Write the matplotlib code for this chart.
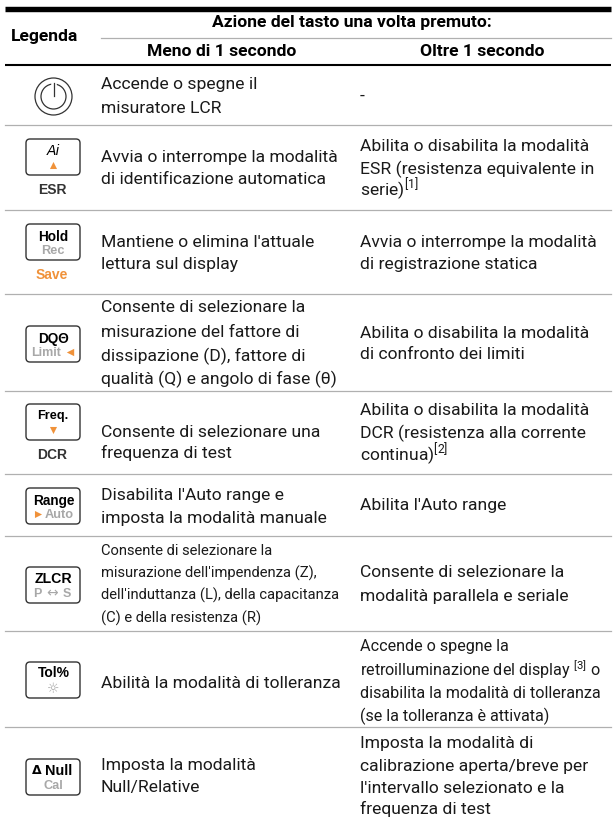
import matplotlib.pyplot as plt
from matplotlib.patches import FancyBboxPatch, Circle

plt.rcParams['mathtext.default'] = 'regular'

BODY = 'Roboto'
KEYFONT = 'Liberation Sans'
ORANGE = '#f0923a'
GREY = '#a8a8a8'
RULE = '#b0b0b0'
TEXT = '#1a1a1a'

title = 'Azione del tasto una volta premuto:'
col_heads = ['Legenda', 'Meno di 1 secondo', 'Oltre 1 secondo']

short_press = [
    ['Accende o spegne il', 'misuratore LCR'],
    ['Avvia o interrompe la modalità', 'di identificazione automatica'],
    ['Mantiene o elimina l\'attuale', 'lettura sul display'],
    ['Consente di selezionare la', 'misurazione del fattore di', 'dissipazione (D), fattore di', 'qualità (Q) e angolo di fase (θ)'],
    ['Consente di selezionare una', 'frequenza di test'],
    ['Disabilita l\'Auto range e', 'imposta la modalità manuale'],
    ['Consente di selezionare la', 'misurazione dell\'impendenza (Z),', 'dell\'induttanza (L), della capacitanza', '(C) e della resistenza (R)'],
    ['Abilità la modalità di tolleranza'],
    ['Imposta la modalità', 'Null/Relative'],
]
long_press = [
    ['-'],
    ['Abilita o disabilita la modalità', 'ESR (resistenza equivalente in', 'serie)$^{[1]}$'],
    ['Avvia o interrompe la modalità', 'di registrazione statica'],
    ['Abilita o disabilita la modalità', 'di confronto dei limiti'],
    ['Abilita o disabilita la modalità', 'DCR (resistenza alla corrente', 'continua)$^{[2]}$'],
    ['Abilita l\'Auto range'],
    ['Consente di selezionare la', 'modalità parallela e seriale'],
    ['Accende o spegne la', 'retroilluminazione del display $^{[3]}$ o', 'disabilita la modalità di tolleranza', '(se la tolleranza è attivata)'],
    ['Imposta la modalità di', 'calibrazione aperta/breve per', 'l\'intervallo selezionato e la', 'frequenza di test'],
]
key_top = [None, 'Ai', 'Hold', 'DQΘ', 'Freq.', 'Range', 'ZLCR', 'Tol%', 'Null']
key_low = [None, None, 'Rec', 'Limit', None, 'Auto', None, None, 'Cal']
key_under = [None, 'ESR', 'Save', None, 'DCR', None, None, None, None]

# pixel layout, y down
rules = [126, 211, 295, 392, 475, 537, 632, 728]
left_y = [[83, 107], [156, 178], [241, 263], [306, 331, 355, 378], [431, 452],
          [494, 517], [549, 572, 594, 617], [682], [764, 786]]
right_y = [[95], [145, 168, 190], [241, 263], [332, 353], [409, 432, 455],
           [504], [571, 595], [645, 670, 692, 715], [742, 765, 787, 808]]
key_y = [None, 140, 225, 327, 405, 489, 568, 663, 760]
left_x = 101
right_x = 360

fig = plt.figure(figsize=(6.16, 8.2), dpi=100)
ax = fig.add_axes([0, 0, 1, 1])
ax.set_xlim(0, 616)
ax.set_ylim(820, 0)
ax.axis('off')

ax.plot([5, 611], [10, 10], color='black', lw=3.9, solid_capstyle='butt')
ax.plot([5, 611], [65.7, 65.7], color='black', lw=1.5, solid_capstyle='butt')
ax.plot([101, 611], [38.5, 38.5], color=RULE, lw=0.9)
for y in rules:
    ax.plot([5, 611], [y, y], color=RULE, lw=0.9)

ax.text(352, 23, title, family=BODY, weight='bold', fontsize=12.6, ha='center', va='center', color='black')
ax.text(45, 37, col_heads[0], family=BODY, weight='bold', fontsize=12.6, ha='center', va='center', color='black')
ax.text(222, 51, col_heads[1], family=BODY, weight='bold', fontsize=12.6, ha='center', va='center', color='black')
ax.text(482, 51, col_heads[2], family=BODY, weight='bold', fontsize=12.6, ha='center', va='center', color='black')


def body(x, ys, lines, size=12.6):
    for y, line in zip(ys, lines):
        ax.text(x, y + 6, line, family=BODY, fontsize=size, va='baseline', color=TEXT)


for i in range(len(short_press)):
    body(left_x, left_y[i], short_press[i], size=10.6 if i == 6 else 12.6)
    body(right_x, right_y[i], long_press[i], size=11.6 if i == 7 else 12.6)

# power button
ax.add_patch(Circle((53.5, 97.5), 18.5, fill=False, ec='#333333', lw=0.9))
ax.add_patch(Circle((53.5, 97.5), 12.5, fill=False, ec='#333333', lw=0.9))
ax.plot([53.5, 53.5], [83, 90], color='white', lw=4)
ax.plot([53.5, 53.5], [84, 97], color='#333333', lw=0.9)


def keytext(x, y, s, size, color='black'):
    ax.text(x, y, s, family=KEYFONT, weight='bold', fontsize=size, ha='center', va='center', color=color)


# keys
for i in range(1, len(key_top)):
    top = key_y[i]
    ax.add_patch(FancyBboxPatch((26, top), 54, 36, boxstyle='round,pad=0,rounding_size=4',
                                fill=False, ec='#333333', lw=1.0))
    name = key_top[i]
    if name == 'Ai':
        ax.text(53, top + 11, name, family='DejaVu Sans', style='italic', fontsize=10, ha='center', va='center', color='black')
        ax.scatter([53], [top + 26], marker='^', s=26, color=ORANGE, lw=0)
    elif name == 'Freq.':
        keytext(52.5, top + 11, name, 9.2)
        ax.scatter([52.5], [top + 26], marker='v', s=26, color=ORANGE, lw=0)
    elif name == 'Null':
        keytext(58.5, top + 11, name, 10.4)
        ax.text(37, top + 11, 'Δ', family='DejaVu Sans', weight='bold', fontsize=9, ha='center', va='center', color='black')
    elif name == 'Tol%':
        keytext(53.5, top + 10, name, 10)
    elif name == 'ZLCR':
        keytext(53, top + 11, name, 10.2)
    else:
        keytext(53.5, top + 12, name, 9.8)

    low = key_low[i]
    if low == 'Limit':
        keytext(46, top + 26, low, 9, GREY)
        ax.scatter([70], [top + 26], marker='<', s=28, color=ORANGE, lw=0)
    elif low == 'Auto':
        keytext(59, top + 26, low, 9.2, GREY)
        ax.scatter([38], [top + 26], marker='>', s=26, color=ORANGE, lw=0)
    elif low == 'Cal':
        keytext(53.5, top + 26, low, 9.2, GREY)
    elif low is not None:
        keytext(53, top + 26, low, 9.2, GREY)

    if name == 'ZLCR':
        keytext(37, top + 26, 'P', 9, GREY)
        keytext(67, top + 26, 'S', 9, GREY)
        ax.text(52, top + 25, '↔', family='DejaVu Sans', fontsize=10, ha='center', va='center', color=GREY)
    if name == 'Tol%':
        ax.text(53, top + 26, '☼', family='DejaVu Sans', fontsize=10, ha='center', va='center', color=GREY)
    if key_under[i] is not None:
        col = ORANGE if key_under[i] == 'Save' else '#333333'
        keytext(52, top + 50, key_under[i], 10, col)

fig.savefig('out.png', dpi=100)
